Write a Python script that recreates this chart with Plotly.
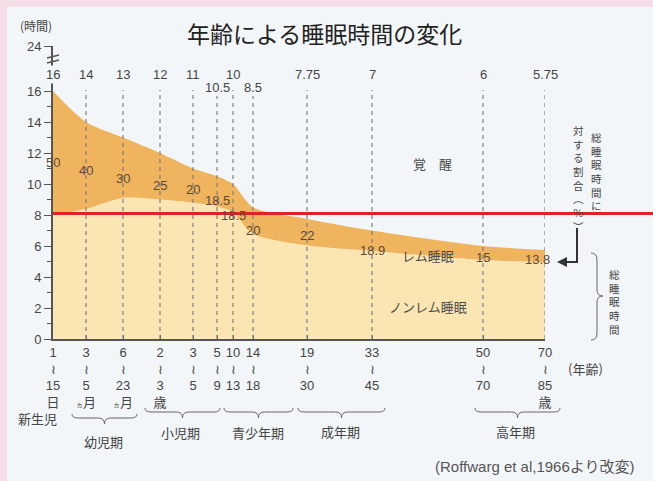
import plotly.graph_objects as go

# ---------------- data ----------------
age_start = ["1", "3", "6", "2", "3", "5", "10", "14", "19", "33", "50", "70"]
age_end = ["15", "5", "23", "3", "5", "9", "13", "18", "30", "45", "70", "85"]
age_unit = ["日", "ヵ月", "ヵ月", "歳", "", "", "", "", "", "", "", "歳"]
total_sleep = [16, 14, 13, 12, 11, 10.5, 10, 8.5, 7.75, 7, 6, 5.75]
total_labels = ["16", "14", "13", "12", "11", "10.5", "10", "8.5", "7.75", "7", "6", "5.75"]
rem_pct = [50, 40, 30, 25, 20, 18.5, 18.5, 20, 22, 18.9, 15, 13.8]
rem_labels = ["50", "40", "30", "25", "20", "18.5", "18.5", "20", "22", "18.9", "15", "13.8"]
y_ticks = [0, 2, 4, 6, 8, 10, 12, 14, 16]
groups = ["幼児期", "小児期", "青少年期", "成年期", "高年期"]

# ---------------- layout helpers ----------------
W, H = 653, 481
L, R, T, B = 53, 545, 46, 339           # plot area in pixels
x_pos = [0, 33, 70, 107, 140, 164, 180, 200, 254, 319, 430, 492]  # category positions on axis
x_max = R - L
y_max = (B - T) / 15.5                   # 15.5 px per hour
label_nudge = [5, 5, -4, -4, 0, -6, -14, -7, 0, -7, -3, -2]   # pixel nudges for % labels

def px(x):
    return (x - L) / (R - L)

def py(y):
    return (B - y) / (B - T)

PANEL = "#f3f6f9"
PINK = "#f6dee8"
REM_C = "#efb45d"
NREM_C = "#fbe6b3"
TXT = "#444444"
FONT = "Liberation Sans, Noto Sans CJK JP"
JFONT = "Noto Sans CJK JP"

nrem = [t * (1 - p / 100) for t, p in zip(total_sleep, rem_pct)]

fig = go.Figure()
fig.add_trace(go.Scatter(x=x_pos, y=nrem, mode="lines", fill="tozeroy",
                         fillcolor=NREM_C, line=dict(width=0, shape="spline", smoothing=0.8),
                         hoverinfo="skip", showlegend=False))
fig.add_trace(go.Scatter(x=x_pos, y=total_sleep, mode="lines", fill="tonexty",
                         fillcolor=REM_C, line=dict(width=0, shape="spline", smoothing=0.8),
                         hoverinfo="skip", showlegend=False))

shapes = []
annotations = []

def ptext(txt, x, y, size=13, color=TXT, family=JFONT, **kw):
    annotations.append(dict(x=px(x), y=py(y), xref="paper", yref="paper", text=txt,
                            showarrow=False, xanchor="center", yanchor="middle",
                            font=dict(size=size, color=color, family=family), **kw))

# background panel
shapes.append(dict(type="rect", xref="paper", yref="paper", layer="below",
                   x0=px(7), x1=px(W + 5), y0=py(7), y1=py(H + 5),
                   fillcolor=PANEL, line=dict(width=0)))

# dashed vertical guide lines
for i, xv in enumerate(x_pos):
    if i == 0:
        continue
    top = py(96) if i in (5, 7) else py(90)
    shapes.append(dict(type="line", xref="x", yref="paper", x0=xv, x1=xv,
                       y0=0, y1=top, layer="above",
                       line=dict(color="#7f7f7f", width=1.2, dash="4px,4px")))

# top labels (total sleep)
for i, xv in enumerate(x_pos):
    yy = py(87) if i in (5, 7) else py(74)
    annotations.append(dict(x=xv, y=yy, xref="x", yref="paper", text=total_labels[i],
                            showarrow=False, xanchor="center", yanchor="middle",
                            font=dict(size=13, color=TXT, family=FONT),
                            bgcolor=PANEL if i == 0 else None, borderpad=1))

# REM percentage labels inside the band
for i, xv in enumerate(x_pos):
    yv = nrem[i] + 0.38 * (total_sleep[i] - nrem[i])
    xs = -8 if i == len(x_pos) - 1 else 0
    annotations.append(dict(x=xv, y=yv, xref="x", yref="y", text=rem_labels[i],
                            showarrow=False, xshift=xs, yshift=label_nudge[i],
                            xanchor="center", yanchor="middle",
                            font=dict(size=13, color="#5a4a3a", family=FONT)))

# axis break on y axis
for yb in (56, 61):
    shapes.append(dict(type="line", xref="paper", yref="paper",
                       x0=px(47), x1=px(59), y0=py(yb + 2), y1=py(yb - 1),
                       line=dict(color="#555", width=1.3)))

# red horizontal line
shapes.append(dict(type="line", xref="paper", yref="y", x0=0, x1=px(W + 2),
                   y0=8.1, y1=8.1, layer="above", line=dict(color="#e3202a", width=3)))

# horizontal curly braces under age groups
def hbrace(x1, x2, yt):
    xm = (x1 + x2) / 2
    ym = yt + 4
    yb = yt + 10
    r = 6
    pts = [
        f"M {px(x1)},{py(yt)}",
        f"Q {px(x1)},{py(ym)} {px(x1 + r)},{py(ym)}",
        f"L {px(xm - r)},{py(ym)}",
        f"Q {px(xm)},{py(ym)} {px(xm)},{py(yb)}",
        f"Q {px(xm)},{py(ym)} {px(xm + r)},{py(ym)}",
        f"L {px(x2 - r)},{py(ym)}",
        f"Q {px(x2)},{py(ym)} {px(x2)},{py(yt)}",
    ]
    return dict(type="path", xref="paper", yref="paper", path=" ".join(pts),
                line=dict(color="#666", width=1))

brace_spans = [(72, 137, 414), (145, 220, 408), (224, 293, 408), (298, 385, 408), (475, 560, 408)]
label_pos = [(103, 441), (180, 432), (258, 432), (340, 431), (515, 431)]
for (x1, x2, yt), g, (lx, ly) in zip(brace_spans, groups, label_pos):
    shapes.append(hbrace(x1, x2, yt))
    ptext(g, lx, ly)

ptext("新生児", 37, 418)
ptext("(年齢)", 585, 368)
ptext("(Roffwarg et al,1966より改変)", 535, 466, size=15, color="#555", family=FONT)
ptext("(時間)", 36, 25, size=12)
ptext("年齢による睡眠時間の変化", 324, 33, size=23, color="#222")

# labels inside the chart
for txt, (lx, ly) in [("覚　醒", (432, 163)), ("レム睡眠", (428, 255)), ("ノンレム睡眠", (428, 306))]:
    ptext(txt, lx, ly, color="#4a4a4a")

# vertical texts (one character per line)
ptext("<br>".join("総睡眠時間に"), 596, 171, size=10.5)
ptext("<br>".join(["対", "す", "る", "割", "合", "︵", "％", "︶"]), 578, 178, size=10.5)
ptext("<br>".join("総睡眠時間"), 614, 302, size=10.5)

# arrow to 13.8
shapes.append(dict(type="line", xref="paper", yref="paper", x0=px(577), x1=px(577),
                   y0=py(228), y1=py(263), line=dict(color="#333", width=2)))
annotations.append(dict(x=px(557), y=py(262), ax=21, ay=0,
                        xref="paper", yref="paper",
                        text="", showarrow=True, arrowhead=2, arrowsize=1,
                        arrowwidth=2, arrowcolor="#333"))

# vertical brace on the right
vb = [
    f"M {px(591)},{py(253)}",
    f"Q {px(597)},{py(253)} {px(597)},{py(260)}",
    f"L {px(597)},{py(290)}",
    f"Q {px(597)},{py(296)} {px(603)},{py(296)}",
    f"Q {px(597)},{py(296)} {px(597)},{py(302)}",
    f"L {px(597)},{py(333)}",
    f"Q {px(597)},{py(340)} {px(591)},{py(340)}",
]
shapes.append(dict(type="path", xref="paper", yref="paper", path=" ".join(vb),
                   line=dict(color="#666", width=1)))

tick_text = []
for s, e, u in zip(age_start, age_end, age_unit):
    t = f"{s}<br>≀<br>{e}"
    if u == "ヵ月":
        t += "<br><span style='font-size:7px'>ヵ</span>月"
    elif u:
        t += f"<br>{u}"
    tick_text.append(t)

fig.update_layout(
    width=W, height=H,
    margin=dict(l=L, r=W - R, t=T, b=H - B, pad=0),
    paper_bgcolor=PINK, plot_bgcolor="rgba(0,0,0,0)",
    showlegend=False,
    shapes=shapes, annotations=annotations,
    xaxis=dict(range=[0, x_max], tickvals=x_pos, ticktext=tick_text,
               showline=True, linecolor="#555", linewidth=2, ticks="inside",
               ticklen=4, tickcolor="#555", showgrid=False, zeroline=False,
               tickfont=dict(size=13, color=TXT, family=FONT)),
    yaxis=dict(range=[0, y_max], tickvals=y_ticks + [y_max],
               ticktext=[str(v) for v in y_ticks] + ["24"],
               showline=True, linecolor="#555", linewidth=2, ticks="outside",
               ticklen=7, tickcolor="#555", showgrid=False, zeroline=False,
               tickfont=dict(size=13, color=TXT, family=FONT),
               minor=dict(tickvals=[v + 1 for v in y_ticks[:-1]], ticks="outside",
                          ticklen=4, tickcolor="#555")),
)

fig.write_html("out.html", config={"displayModeBar": False},
               post_script="document.body.style.margin='0';")
